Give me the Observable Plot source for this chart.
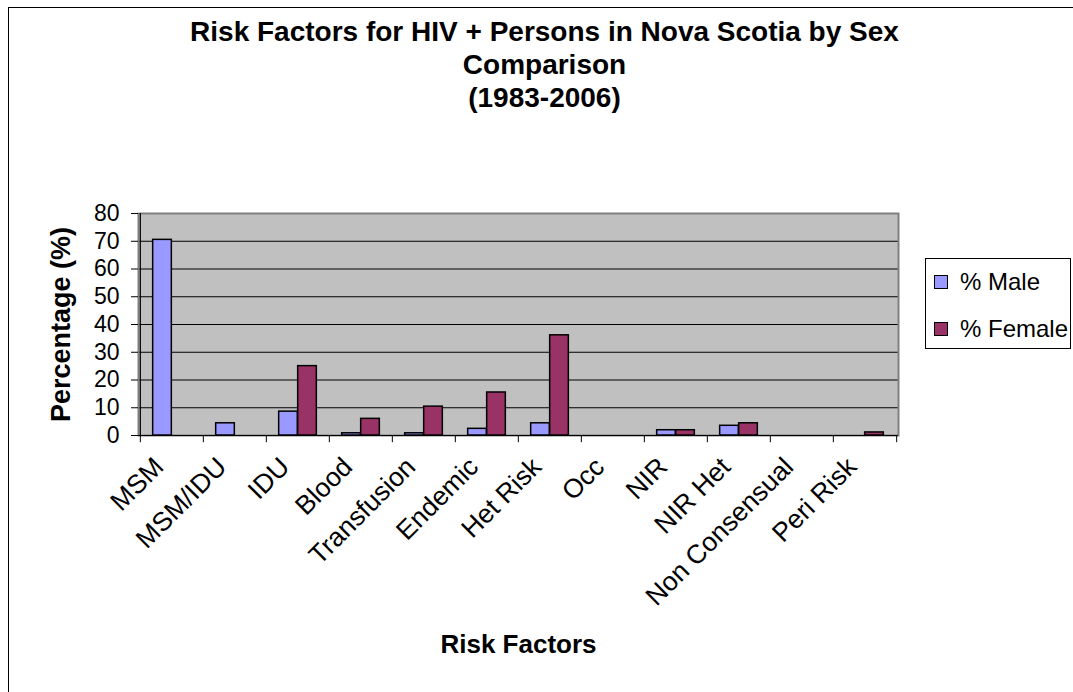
<!DOCTYPE html>
<html><head><meta charset="utf-8">
<script src="https://cdn.jsdelivr.net/npm/d3@7"></script>
<script src="https://cdn.jsdelivr.net/npm/@observablehq/plot@0.6"></script>
<style>
html,body{margin:0;padding:0;overflow:hidden;background:#fff;}
#wrap{position:relative;width:1073px;height:692px;font-family:"Liberation Sans",Arial,sans-serif;color:#000;}
#wrap svg{position:absolute;left:0;top:0;}
#border{position:absolute;left:8px;top:7px;width:1200px;height:800px;border:1px solid #000;box-sizing:border-box;pointer-events:none;}
#title{position:absolute;left:0;width:1089px;top:15px;text-align:center;font-weight:bold;font-size:28px;line-height:33px;}
#legend{position:absolute;left:925px;top:258px;width:146px;height:91px;border:1px solid #000;box-sizing:border-box;background:#fff;font-size:24px;}
.item{position:absolute;left:8px;display:flex;align-items:center;white-space:nowrap;}
.sw{width:12px;height:12px;border:1px solid #000;margin-right:12px;}
g[aria-label="y-axis label"] text{font-weight:bold;font-size:27px;}
g[aria-label="x-axis label"] text{font-weight:bold;font-size:26px;}
g[aria-label="x-axis tick label"] text{font-size:26.5px;}
</style>
</head><body>
<div id="wrap"></div>
<script>
const categories = ["MSM","MSM/IDU","IDU","Blood","Transfusion","Endemic","Het Risk","Occ","NIR","NIR Het","Non Consensual","Peri Risk"];
const maleValues   = [70.5, 4.4, 8.6, 0.8, 0.8, 2.4, 4.4, 0, 1.9, 3.5, 0, 0];
const femaleValues = [0, 0, 25, 6, 10.4, 15.5, 36.1, 0, 1.9, 4.4, 0, 1.1];
const seriesNames = ["% Male", "% Female"];
const seriesColors = ["#9999ff", "#993366"];
const yTicks = [0,10,20,30,40,50,60,70,80];
const gridTicks = [10,20,30,40,50,60,70];
const titleLines = ["Risk Factors for HIV + Persons in Nova Scotia by Sex","Comparison","(1983-2006)"];

const W = 1073, H = 692, mL = 138, mR = 175, mT = 213, mB = 257;
const step = (W - mL - mR) / categories.length;
const bw = step * 0.3;
const gap = (step - 2 * bw) / 2;

const male = categories.map((c, i) => ({cat: c, value: maleValues[i]})).filter(d => d.value > 0);
const female = categories.map((c, i) => ({cat: c, value: femaleValues[i]})).filter(d => d.value > 0);

const plot = Plot.plot({
  width: W, height: H,
  marginLeft: mL, marginRight: mR, marginTop: mT, marginBottom: mB,
  style: {fontFamily: "'Liberation Sans', Arial, sans-serif", fontSize: "23px", background: "transparent", color: "#000"},
  x: {domain: categories, padding: 0},
  y: {domain: [0, 80]},
  marks: [
    Plot.frame({fill: "#c0c0c0"}),
    Plot.gridY(gridTicks, {stroke: "#000", strokeOpacity: 1, strokeWidth: 1}),
    Plot.frame({stroke: "#808080", strokeWidth: 2}),
    Plot.barY(male, {x: "cat", y: "value", fill: seriesColors[0], stroke: "#000", strokeWidth: 1.5, insetLeft: gap, insetRight: gap + bw}),
    Plot.barY(female, {x: "cat", y: "value", fill: seriesColors[1], stroke: "#000", strokeWidth: 1.5, insetLeft: gap + bw, insetRight: gap}),
    Plot.ruleY([0], {stroke: "#000", strokeWidth: 1.2}),
    Plot.ruleX([categories[0]], {dx: -step / 2, y1: 0, y2: 80, stroke: "#000", strokeWidth: 1.2}),
    Plot.ruleX(categories, {dx: -step / 2, y1: 0, y2: -2.6, stroke: "#000"}),
    Plot.ruleX([categories[categories.length - 1]], {dx: step / 2, y1: 0, y2: -2.6, stroke: "#000"}),
    Plot.axisY(yTicks, {tickSize: 7, tickPadding: 12, label: "Percentage (%)", labelArrow: "none", labelAnchor: "center", labelOffset: 88}),
    Plot.axisX({tickSize: 0, tickPadding: 27, dx: -13, tickRotate: -45, label: "Risk Factors", labelArrow: "none", labelAnchor: "center", labelOffset: 217})
  ]
});
const wrap = document.getElementById("wrap");
wrap.appendChild(plot);

const border = document.createElement("div"); border.id = "border"; wrap.appendChild(border);
const title = document.createElement("div"); title.id = "title";
title.innerHTML = titleLines.map(t => `<div>${t}</div>`).join("");
wrap.appendChild(title);
const legend = document.createElement("div"); legend.id = "legend";
seriesNames.forEach((n, i) => {
  const it = document.createElement("div"); it.className = "item";
  it.style.top = (i === 0 ? 9 : 56) + "px";
  it.innerHTML = `<span class="sw" style="background:${seriesColors[i]}"></span><span>${n}</span>`;
  legend.appendChild(it);
});
wrap.appendChild(legend);
</script>
</body></html>
